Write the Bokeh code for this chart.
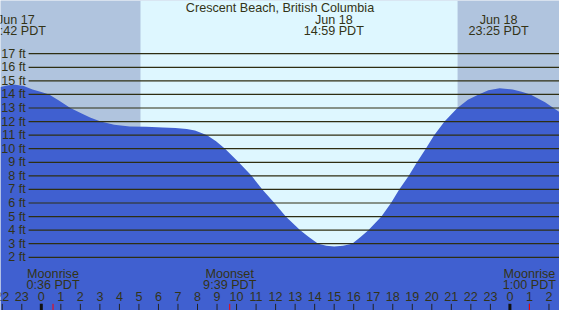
from bokeh.plotting import figure
from bokeh.models import Range1d
from bokeh.core.properties import value
from bokeh.embed import file_html
from bokeh.resources import INLINE

# ---- data (hours relative to Jun 18 00:00 PDT, heights in feet) ----
tide_hours = [-2.09, -1.70, -1.34, -0.90, -0.45, 0.00, 0.40, 0.90, 1.49, 2.04, 2.50, 3.04,
              3.73, 4.53, 5.38, 6.22, 6.87, 7.45, 7.87, 8.20, 8.49, 8.95, 9.41, 10.11,
              10.77, 11.32, 11.94, 12.52, 13.26, 13.70, 14.18, 14.60, 15.00, 15.45, 15.92,
              16.35, 16.75, 17.42, 17.91, 18.33, 18.82, 19.24, 19.69, 20.12, 20.65, 21.31,
              21.85, 22.40, 22.90, 23.47, 24.14, 24.60, 25.05, 25.80, 26.54]
tide_feet = [14.55, 14.68, 14.72, 14.62, 14.37, 14.18, 14.00, 13.55, 13.00, 12.62, 12.30, 12.00,
             11.76, 11.64, 11.62, 11.57, 11.53, 11.45, 11.34, 11.15, 11.00, 10.55, 10.00, 9.00,
             8.00, 7.00, 6.00, 5.00, 4.00, 3.50, 3.00, 2.85, 2.79, 2.85, 3.00,
             3.50, 4.00, 5.00, 6.00, 7.00, 8.00, 9.00, 10.00, 11.00, 12.00, 13.00,
             13.60, 14.00, 14.30, 14.46, 14.37, 14.20, 14.00, 13.43, 12.69]

feet_levels = list(range(2, 18))
feet_labels = [f"{f} ft" for f in feet_levels]

hour_ticks = list(range(-2, 27))
hour_labels = ["22", "23"] + [str(h) for h in range(24)] + ["0", "1", "2"]
midnight_ticks = [0, 24]

sunrise, sunset = 5.08, 21.32

moon_hours = [0.60, 9.65, 25.00]
moon_events = ["Moonrise", "Moonset", "Moonrise"]
moon_times = ["0:36 PDT", "9:39 PDT", "1:00 PDT"]

ext_hours = [-1.30, 14.98, 23.42]
ext_dates = ["Jun 17", "Jun 18", "Jun 18"]
ext_times = ["22:42 PDT", "14:59 PDT", "23:25 PDT"]

title = "Crescent Beach, British Columbia"

# ---- style ----
NIGHT = "#B0C4DE"
DAY = "#DEF7FF"
WATER = "#4060D0"
LINE = "#2E2E12"
TXT = "#333316"
FONT = value("Liberation Sans")
FS = "12.6px"

X0, X1 = -2.09, 26.54
Y0, Y1 = -1.92, 20.92

p = figure(width=559, height=310, title=None,
           x_range=Range1d(X0, X1), y_range=Range1d(Y0, Y1),
           output_backend="svg", toolbar_location=None,
           x_axis_location=None, y_axis_location=None,
           min_border=0, background_fill_color=NIGHT, border_fill_color=NIGHT,
           outline_line_color=None)
p.grid.visible = False

# day shading
p.quad(left=[sunrise], right=[sunset], bottom=[Y0], top=[Y1],
       fill_color=DAY, line_color=None)

# water
p.varea(x=tide_hours, y1=Y0, y2=tide_feet, fill_color=WATER)

# horizontal level lines
p.segment(x0=-0.65, x1=X1, y0=feet_levels, y1=feet_levels,
          line_color=LINE, line_width=1.2)
p.text(x=-0.80, y=feet_levels, text=feet_labels, text_align="right",
       text_baseline="middle", text_font=FONT, text_font_size=FS, text_color=TXT)

# hour ticks and labels
p.segment(x0=hour_ticks, x1=hour_ticks, y0=-1.43, y1=Y0, line_color="#222222", line_width=1)
p.segment(x0=midnight_ticks, x1=midnight_ticks, y0=-1.43, y1=Y0, line_color="#111111", line_width=3)
p.segment(x0=moon_hours, x1=moon_hours, y0=-1.43, y1=Y0, line_color="red", line_width=1)
p.text(x=hour_ticks, y=-0.91, text=hour_labels, text_align="center",
       text_baseline="middle", text_font=FONT, text_font_size=FS, text_color=TXT)

# moon labels
p.text(x=moon_hours, y=0.77, text=moon_events, text_align="center",
       text_baseline="middle", text_font=FONT, text_font_size=FS, text_color=TXT)
p.text(x=moon_hours, y=-0.03, text=moon_times, text_align="center",
       text_baseline="middle", text_font=FONT, text_font_size=FS, text_color=TXT)

# tide extreme labels
p.text(x=ext_hours, y=19.52, text=ext_dates, text_align="center",
       text_baseline="middle", text_font=FONT, text_font_size=FS, text_color=TXT)
p.text(x=ext_hours, y=18.68, text=ext_times, text_align="center",
       text_baseline="middle", text_font=FONT, text_font_size=FS, text_color=TXT)

# title
p.text(x=[(X0 + X1) / 2], y=[20.40], text=[title], text_align="center",
       text_baseline="middle", text_font=FONT, text_font_size=FS, text_color=TXT)

open("out.html", "w").write(file_html(p, INLINE))
